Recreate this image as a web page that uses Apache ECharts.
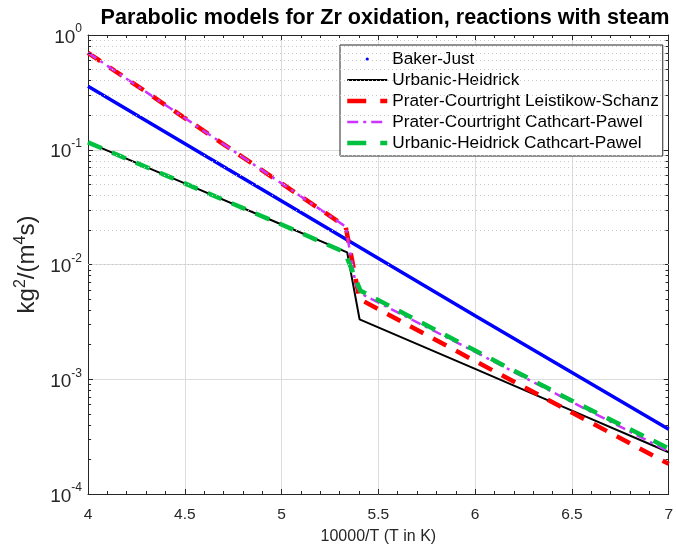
<!DOCTYPE html>
<html><head><meta charset="utf-8">
<script src="https://cdn.jsdelivr.net/npm/echarts@6/dist/echarts.min.js"></script>
<style>html,body{margin:0;padding:0;background:#fff}#c{width:676px;height:550px}</style>
</head><body><div id="c"></div>
<script>
// ---- data ----
const titleText = 'Parabolic models for Zr oxidation, reactions with steam';
const xTicks = [4, 4.5, 5, 5.5, 6, 6.5, 7];
const yTickValues = [1e-4, 1e-3, 1e-2, 1e-1, 1];
const yMinorValues = [2e-4,3e-4,4e-4,5e-4,6e-4,7e-4,8e-4,9e-4,
  2e-3,3e-3,4e-3,5e-3,6e-3,7e-3,8e-3,9e-3,
  2e-2,3e-2,4e-2,5e-2,6e-2,7e-2,8e-2,9e-2,
  0.2,0.3,0.4,0.5,0.6,0.7,0.8,0.9];

const bjX = [4, 5, 6, 7];
const bjY = [0.357, 0.0357, 0.00358, 0.000366];

const uhX = [4, 4.5, 5, 5.339, 5.403, 6, 6.5, 7];
const uhY = [0.116, 0.0509, 0.0223, 0.01276, 0.00333, 0.00123, 0.000533, 0.000231];

const pclsX = [4, 4.5, 5, 5.331, 5.403, 6, 6.5, 7];
const pclsY = [0.70, 0.189, 0.0509, 0.0214, 0.0050, 0.00144, 0.000513, 0.000183];

const pccpX = [4, 4.5, 5, 5.331, 5.382, 5.408, 6, 6.5, 7];
const pccpY = [0.70, 0.189, 0.0509, 0.0214, 0.00685, 0.0056, 0.00173, 0.000633, 0.000235];

const uhcpX = [4, 4.5, 5, 5.326, 5.408, 6, 6.5, 7];
const uhcpY = [0.116, 0.0509, 0.0223, 0.0128, 0.0059, 0.00178, 0.00065, 0.00025];

const names = ['Baker-Just', 'Urbanic-Heidrick', 'Prater-Courtright Leistikow-Schanz',
  'Prater-Courtright Cathcart-Pawel', 'Urbanic-Heidrick Cathcart-Pawel'];

// ---- build ----
const pairs = (xs, ys) => xs.map((x, i) => [x, ys[i]]);
const FONT = 'Liberation Sans, Arial, Helvetica, sans-serif';
const AX = '#262626';
const C = { bj: '#0000ff', uh: '#000000', pcls: '#ff0000', pccp: '#cc33ff', uhcp: '#00c040' };

const minorLines = [];
yMinorValues.forEach(v => {
  minorLines.push({ yAxis: v, lineStyle: { type: [1, 3], color: '#c8c8c8', width: 1 } });
  minorLines.push([{ coord: [4, v], lineStyle: { type: 'solid', color: AX, width: 1 } }, { coord: [4.016, v] }]);
  minorLines.push([{ coord: [6.984, v], lineStyle: { type: 'solid', color: AX, width: 1 } }, { coord: [7, v] }]);
});

const hideSym = { opacity: 0, borderWidth: 0 };
const chart = echarts.init(document.getElementById('c'));
chart.setOption({
  animation: false,
  backgroundColor: '#fff',
  title: {
    text: titleText, left: 380, top: 2, textAlign: 'center',
    textStyle: { fontFamily: FONT, fontSize: 21.6, fontWeight: 'bold', color: '#000' }
  },
  grid: { left: 88, right: 2, top: 35, bottom: 53, show: false },
  legend: {
    orient: 'vertical', left: 340, top: 45,
    padding: [5, 4, 4, 5], itemGap: 3, itemWidth: 40, itemHeight: 4,
    backgroundColor: '#fff', borderColor: AX, borderWidth: 1,
    textStyle: { fontFamily: FONT, fontSize: 17.2, color: '#000', lineHeight: 18 },
    data: [
      { name: names[0], lineStyle: { opacity: 0 }, itemStyle: { color: C.bj, borderWidth: 0 } },
      { name: names[1], itemStyle: hideSym, lineStyle: { color: C.uh, width: 2, type: 'solid' } },
      { name: names[2], itemStyle: hideSym, lineStyle: { color: C.pcls, width: 4.5, type: [19, 14] } },
      { name: names[3], itemStyle: hideSym, lineStyle: { color: C.pccp, width: 2.5, type: [11, 5, 3, 5] } },
      { name: names[4], itemStyle: hideSym, lineStyle: { color: C.uhcp, width: 4.5, type: [19, 14] } }
    ]
  },
  xAxis: [{
    type: 'value', min: 4, max: 7, interval: 0.5, position: 'bottom',
    axisLine: { show: true, onZero: false, lineStyle: { color: AX } },
    axisTick: { inside: true, length: 5, lineStyle: { color: AX } },
    minorTick: { show: true, splitNumber: 5, length: 3, lineStyle: { color: AX } },
    splitLine: { show: true, lineStyle: { color: '#dcdcdc', width: 1 } },
    axisLabel: { margin: 13, fontFamily: FONT, fontSize: 15.5, color: AX,
      formatter: v => { const t = xTicks.find(a => Math.abs(a - v) < 1e-9); return t === undefined ? '' : String(t); } },
    name: '10000/T (T in K)', nameLocation: 'middle', nameGap: 35,
    nameTextStyle: { fontFamily: FONT, fontSize: 16, color: AX }
  }, {
    type: 'value', min: 4, max: 7, interval: 0.5, position: 'top',
    axisLine: { show: true, onZero: false, lineStyle: { color: AX } },
    axisTick: { inside: true, length: 5, lineStyle: { color: AX } },
    minorTick: { show: true, splitNumber: 5, length: 3, lineStyle: { color: AX } },
    splitLine: { show: false }, axisLabel: { show: false }
  }],
  yAxis: [{
    type: 'log', logBase: 10, min: 1e-4, max: 1, position: 'left',
    axisLine: { show: true, onZero: false, lineStyle: { color: AX } },
    axisTick: { inside: true, length: 5, lineStyle: { color: AX } },
    splitLine: { show: true, lineStyle: { color: '#dcdcdc', width: 1 } },
    axisLabel: {
      margin: 6, color: AX,
      formatter: v => {
        const t = yTickValues.find(a => Math.abs(Math.log10(a) - Math.log10(v)) < 1e-6);
        if (t === undefined) return '';
        return '{b|10}{s|' + Math.round(Math.log10(t)) + '}';
      },
      rich: {
        b: { fontFamily: FONT, fontSize: 19, color: AX, lineHeight: 24, verticalAlign: 'bottom' },
        s: { fontFamily: FONT, fontSize: 12, color: AX, lineHeight: 24, verticalAlign: 'top' }
      }
    },
    name: 'kg{s|2}/(m{s|4}s)', nameLocation: 'middle', nameGap: 42, nameRotate: 90,
    nameTextStyle: {
      fontFamily: FONT, fontSize: 24, color: AX,
      rich: {
        s: { fontFamily: FONT, fontSize: 16, color: AX, verticalAlign: 'top', lineHeight: 30 }
      }
    }
  }, {
    type: 'log', logBase: 10, min: 1e-4, max: 1, position: 'right',
    axisLine: { show: true, onZero: false, lineStyle: { color: AX } },
    axisTick: { inside: true, length: 5, lineStyle: { color: AX } },
    splitLine: { show: false }, axisLabel: { show: false }
  }],
  series: [
    {
      name: '_grid', type: 'line', data: [], silent: true,
      markLine: { silent: true, symbol: 'none', label: { show: false }, animation: false, data: minorLines }
    },
    {
      name: names[0], type: 'line', data: pairs(bjX, bjY), symbol: 'circle', showSymbol: false,
      color: C.bj, lineStyle: { color: C.bj, width: 3.5 }, clip: true
    },
    {
      name: names[1], type: 'line', data: pairs(uhX, uhY), symbol: 'none',
      color: C.uh, lineStyle: { color: C.uh, width: 2 }, clip: true
    },
    {
      name: names[2], type: 'line', data: pairs(pclsX, pclsY), symbol: 'none',
      color: C.pcls, lineStyle: { color: C.pcls, width: 4.5, type: [15, 11] }, clip: true
    },
    {
      name: names[3], type: 'line', data: pairs(pccpX, pccpY), symbol: 'none',
      color: C.pccp, lineStyle: { color: C.pccp, width: 2.5, type: [10, 5, 3, 5] }, clip: true
    },
    {
      name: names[4], type: 'line', data: pairs(uhcpX, uhcpY), symbol: 'none',
      color: C.uhcp, lineStyle: { color: C.uhcp, width: 4.5, type: [15, 11] }, clip: true
    }
  ]
});
</script>
</body></html>
